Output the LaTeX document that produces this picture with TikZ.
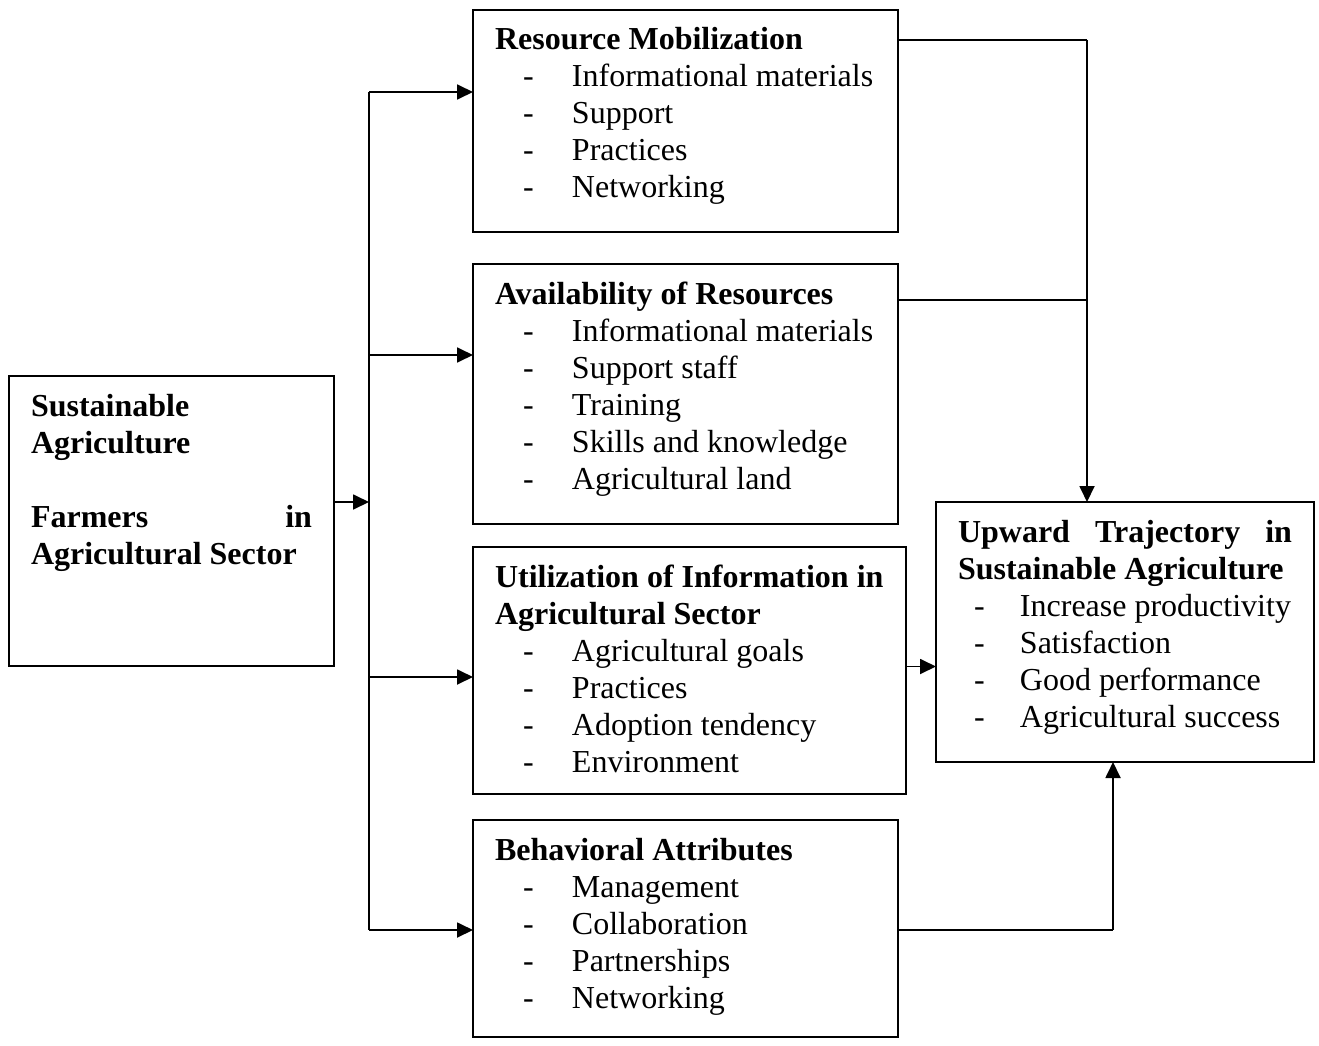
\documentclass[tikz,border=0pt]{standalone}
\usepackage{fontspec}
\setmainfont{Liberation Serif}
\usetikzlibrary{arrows.meta,positioning,calc}

% text body of a box: fixed size, first baseline 40pt below the top
\newcommand{\panelbody}[3]{\parbox[t][#2][t]{#1}{\raggedright\rule{0pt}{40pt}#3}}
\newcommand{\mitem}{\makebox[77pt][l]{\hspace*{28pt}-}}
\newcommand{\titem}{\makebox[62pt][l]{\hspace*{16pt}-}}

\begin{document}
\begin{tikzpicture}[
  x=1pt, y=-1pt,
  panel/.style={
    draw, rectangle, line width=1.8pt, anchor=north west,
    inner xsep=22pt, inner ysep=0pt, outer sep=0pt,
    font=\fontsize{32}{37}\selectfont
  },
  link/.style={line width=1.8pt},
  arrow/.style={-{Triangle[length=16pt,width=15pt]}, line width=1.8pt}
]
\useasboundingbox (0,0) rectangle (1319,1046);

% Source box
\node[panel] (farm) at (9,376)
  {\panelbody{281pt}{290pt}{\textbf{Sustainable\\Agriculture\\[37pt]
   Farmers\hfill in\\Agricultural Sector}}};

% Box 1: Resource Mobilization
\node[panel] (mob) at (473,10)
  {\panelbody{381pt}{222pt}{\textbf{Resource Mobilization}\\
   \mitem Informational materials\\
   \mitem Support\\
   \mitem Practices\\
   \mitem Networking}};

% Box 2: Availability of Resources
\node[panel] (avail) at (473,264)
  {\panelbody{381pt}{260pt}{\textbf{Availability of Resources}\\
   \mitem Informational materials\\
   \mitem Support staff\\
   \mitem Training\\
   \mitem Skills and knowledge\\
   \mitem Agricultural land}};

% Box 3: Utilization of Information
\node[panel] (util) at (473,547)
  {\panelbody{389pt}{247pt}{\textbf{Utilization of Information in\\Agricultural Sector}\\
   \mitem Agricultural goals\\
   \mitem Practices\\
   \mitem Adoption tendency\\
   \mitem Environment}};

% Box 4: Behavioral Attributes
\node[panel] (behav) at (473,820)
  {\panelbody{381pt}{217pt}{\textbf{Behavioral Attributes}\\
   \mitem Management\\
   \mitem Collaboration\\
   \mitem Partnerships\\
   \mitem Networking}};

% Outcome box
\node[panel] (traj) at (936,502)
  {\panelbody{334pt}{260pt}{\textbf{Upward\hfill Trajectory\hfill in\\Sustainable Agriculture}\\
   \titem Increase productivity\\
   \titem Satisfaction\\
   \titem Good performance\\
   \titem Agricultural success}};

% Branching bus on the left
\coordinate (b1) at (369,92);
\coordinate (b2) at (369,355);
\coordinate (bin) at (369,502);
\coordinate (b3) at (369,677);
\coordinate (b4) at (369,930);
\draw[link] (b1) -- (b4);
\draw[arrow] (farm.east |- bin) -- (bin);
\draw[arrow] (b1) -- (mob.west |- b1);
\draw[arrow] (b2) -- (avail.west |- b2);
\draw[arrow] (b3) -- (util.west |- b3);
\draw[arrow] (b4) -- (behav.west |- b4);

% Joining lines on the right
\coordinate (j1) at (1087,40);
\coordinate (j2) at (1087,300);
\coordinate (j3) at (1113,930);
\draw[link] (mob.east |- j1) -- (j1);
\draw[link] (avail.east |- j2) -- (j2);
\draw[arrow] (j1) -- (j1 |- traj.north);
\draw[arrow] ([yshift=4pt]util.east) -- ([yshift=4pt]util.east -| traj.west);
\draw[link] (behav.east |- j3) -- (j3);
\draw[arrow] (j3) -- (j3 |- traj.south);

\end{tikzpicture}
\end{document}
